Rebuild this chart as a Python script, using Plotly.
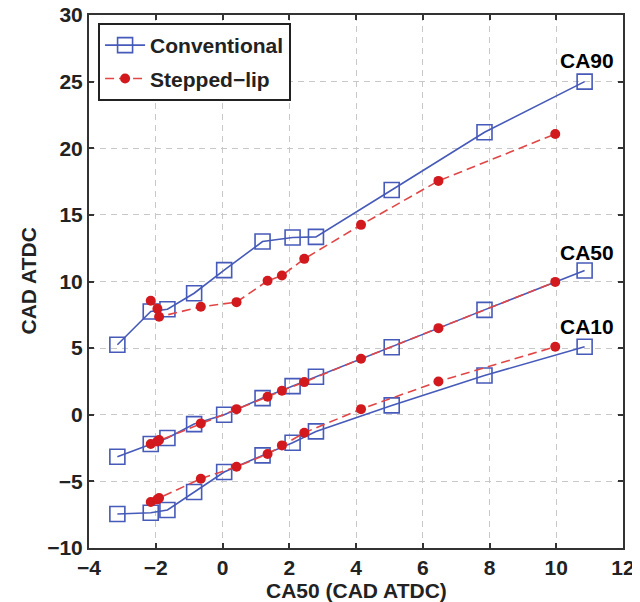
import plotly.graph_objects as go

# Conventional
conv_x = [-3.15, -2.15, -1.65, -0.85, 0.05, 1.2, 2.1, 2.8, 5.07, 7.85, 10.85]
conv_ca10 = [-7.45, -7.35, -7.15, -5.8, -4.3, -3.05, -2.1, -1.25, 0.7, 2.95, 5.1]
conv_ca50 = [-3.15, -2.2, -1.75, -0.7, 0.0, 1.25, 2.15, 2.85, 5.07, 7.87, 10.82]
conv_ca90 = [5.25, 7.75, 7.92, 9.12, 10.85, 13.0, 13.3, 13.35, 16.87, 21.2, 25.0]

# Stepped-lip
step_x = [-2.15, -1.95, -1.9, -0.65, 0.42, 1.35, 1.78, 2.45, 4.15, 6.47, 9.97]
step_ca10 = [-6.55, -6.35, -6.25, -4.8, -3.9, -2.95, -2.3, -1.35, 0.42, 2.5, 5.1]
step_ca50 = [-2.2, -2.0, -1.9, -0.65, 0.42, 1.35, 1.8, 2.45, 4.2, 6.5, 9.97]
step_ca90 = [8.55, 7.95, 7.35, 8.1, 8.45, 10.05, 10.45, 11.7, 14.25, 17.55, 21.07]

series_labels = ["CA90", "CA50", "CA10"]
label_x = [10.93, 10.93, 10.93]
label_y = [26.6, 12.2, 6.6]

BLUE = "rgb(70,90,185)"
RED_LINE = "rgb(225,70,70)"
RED_MARK = "rgb(210,25,30)"
FONT = "Liberation Sans, Arial, sans-serif"
FS = 21

fig = go.Figure()

for i, ys in enumerate([conv_ca90, conv_ca50, conv_ca10]):
    fig.add_trace(go.Scatter(
        x=conv_x, y=ys, mode="lines+markers",
        name="<b>Conventional</b>", legendgroup="conv", showlegend=(i == 0),
        line=dict(color=BLUE, width=1.6),
        marker=dict(symbol="square-open", size=15, color=BLUE, line=dict(width=1.6, color=BLUE)),
    ))

for i, ys in enumerate([step_ca90, step_ca50, step_ca10]):
    fig.add_trace(go.Scatter(
        x=step_x, y=ys, mode="lines+markers",
        name="<b>Stepped\u2212lip</b>", legendgroup="step", showlegend=(i == 0),
        line=dict(color=RED_LINE, width=1.6, dash="9px,5px"),
        marker=dict(symbol="circle", size=10, color=RED_MARK, line=dict(width=0)),
    ))

for t, lx, ly in zip(series_labels, label_x, label_y):
    fig.add_annotation(x=lx, y=ly, text="<b>%s</b>" % t, showarrow=False,
                       font=dict(family=FONT, size=FS, color="black"))

# axis titles as annotations for precise placement
fig.add_annotation(x=0.5, y=0, xref="paper", yref="paper", yshift=-42,
                   text="<b>CA50 (CAD ATDC)</b>", showarrow=False,
                   xanchor="center", yanchor="middle",
                   font=dict(family=FONT, size=FS, color="#222"))
fig.add_annotation(x=0, y=0.5, xref="paper", yref="paper", xshift=-61,
                   text="<b>CAD ATDC</b>", showarrow=False, textangle=-90,
                   xanchor="center", yanchor="middle",
                   font=dict(family=FONT, size=FS, color="#222"))

axis_common = dict(
    showline=True, linecolor="#333", linewidth=2, mirror="allticks",
    ticks="inside", ticklen=5, tickwidth=1.5, tickcolor="#333",
    showgrid=True, gridcolor="#c8c8c8", gridwidth=1, griddash="6px,5px",
    zeroline=False, automargin=False, ticklabeloverflow="allow",
    tickfont=dict(family=FONT, size=FS, color="#222"),
    tickprefix="<b>", ticksuffix="</b>",
)

fig.update_xaxes(range=[-4, 12], dtick=2, tick0=-4, **axis_common)
fig.update_yaxes(range=[-10, 30], dtick=5, tick0=-10, **axis_common)

# page body has an 8px margin, so the figure is 632x594 placed at (8, 8)
fig.update_layout(
    width=632, height=594,
    margin=dict(l=81, r=17, t=7, b=54),
    plot_bgcolor="white", paper_bgcolor="white",
    font=dict(family=FONT, size=FS, color="#222"),
    legend=dict(x=0.017, y=0.985, xanchor="left", yanchor="top",
                bgcolor="white", bordercolor="#222", borderwidth=2,
                font=dict(family=FONT, size=FS, color="#222"),
                tracegroupgap=3, itemwidth=40),
)

fig.write_html("out.html")
